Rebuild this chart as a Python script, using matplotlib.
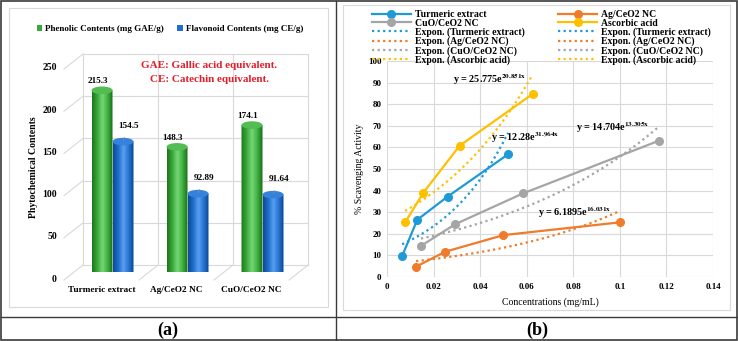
import numpy as np
import matplotlib.pyplot as plt
from matplotlib.patches import Ellipse, Patch, Rectangle
from matplotlib.path import Path
from matplotlib.lines import Line2D
from matplotlib.colors import LinearSegmentedColormap
from matplotlib.transforms import Affine2D

plt.rcParams['font.family'] = ['Liberation Serif', 'DejaVu Serif']
plt.rcParams['font.weight'] = 'bold'
plt.rcParams['mathtext.fontset'] = 'stix'

# panel (a) data
samples = ['Turmeric extract', 'Ag/CeO2 NC', 'CuO/CeO2 NC']
phenolic = [215.3, 148.3, 174.1]
flavonoid = [154.5, 92.89, 91.64]

# panel (b) data
turmeric_x = [0.0065, 0.013, 0.026, 0.052]
turmeric_y = [9.7, 26.5, 37.2, 56.8]
ag_x = [0.0125, 0.025, 0.05, 0.1]
ag_y = [4.8, 11.7, 19.4, 25.3]
cuo_x = [0.0146, 0.0292, 0.0584, 0.1168]
cuo_y = [14.4, 24.4, 38.7, 63.1]
asc_x = [0.0078, 0.0156, 0.0312, 0.0625]
asc_y = [25.3, 39.0, 60.8, 84.7]
fit_text = {
    'Turmeric extract': r'y = 12.28e$^{\mathbf{31.964x}}$',
    'Ag/CeO2 NC': r'y = 6.1895e$^{\mathbf{16.031x}}$',
    'CuO/CeO2 NC': r'y = 14.704e$^{\mathbf{13.305x}}$',
    'Ascorbic acid': r'y = 25.775e$^{\mathbf{20.851x}}$',
}

W, H = 738, 341


def fx(px):
    return px / W


def fy(py):
    return 1 - py / H


fig = plt.figure(figsize=(7.38, 3.41), dpi=100)

# frames
fig.add_artist(Rectangle((fx(1), fy(340)), 736 / W, 339 / H, fill=False,
                         ec='#3a3a3a', lw=1.2, transform=fig.transFigure))
fig.add_artist(Line2D([fx(336)] * 2, [fy(1), fy(340)], color='#3a3a3a', lw=1.0))
fig.add_artist(Line2D([fx(1), fx(737)], [fy(317)] * 2, color='#3a3a3a', lw=1.0))
fig.add_artist(Rectangle((fx(9), fy(307)), 319 / W, 299 / H, fill=False,
                         ec='#d9d9d9', lw=0.8, transform=fig.transFigure))
fig.add_artist(Rectangle((fx(343), fy(310)), 387 / W, 305 / H, fill=False,
                         ec='#d9d9d9', lw=0.8, transform=fig.transFigure))
fig.text(fx(168), fy(330), '(a)', ha='center', va='center', fontsize=13)
fig.text(fx(537), fy(330), '(b)', ha='center', va='center', fontsize=13)

# ---------------- panel (a): 3D-look cylinders
axa = fig.add_axes([fx(75), fy(272), 225 / W, 211 / H])
sx = 225 / 3
sy = 211 / 250


def off(x, y, dxp, dyp):
    return x + dxp / sx, y + dyp / sy


grid_c = '#d9d9d9'
for v in range(0, 251, 50):
    x0, y0 = off(-0.5, v, 8, 7)
    x1, y1 = off(2.5, v, 8, 7)
    xa, ya = off(-0.5, v, -11, -8)
    axa.plot([x0, x1], [y0, y1], color=grid_c, lw=0.8, clip_on=False, zorder=0)
    axa.plot([xa, x0], [ya, y0], color=grid_c, lw=0.8, clip_on=False, zorder=0)
    tx, ty = off(-0.5, v, -18, -7)
    axa.text(tx, ty, str(v), ha='right', va='center', fontsize=7)
for b in [-0.5, 0.5, 1.5, 2.5]:
    x0, y0 = off(b, 0, 8, 7)
    x1, y1 = off(b, 250, 8, 7)
    axa.plot([x0, x1], [y0, y1], color=grid_c, lw=0.8, clip_on=False, zorder=0)
for b in [0.5, 1.5, 2.5]:
    xa, ya = off(b, 0, -11, -8)
    x0, y0 = off(b, 0, 8, 7)
    axa.plot([xa, x0], [ya, y0], color=grid_c, lw=0.8, clip_on=False, zorder=0)

green_map = LinearSegmentedColormap.from_list(
    'g', ['#1d761d', '#38a838', '#78d678', '#3fb23f', '#1a6a1a'])
blue_map = LinearSegmentedColormap.from_list(
    'b', ['#0c4a96', '#1d6dcc', '#5b9ff0', '#2674d4', '#0a4690'])


def cylinder(ax, c, h, w, cmap, top_color):
    eh = 9
    arc = Path.arc(180, 360)
    tr = Affine2D().scale(w / 2, eh / 2).translate(c, 0)
    verts = list(tr.transform(arc.vertices)) + [(c + w / 2, h), (c - w / 2, h), (c - w / 2, 0)]
    codes = list(arc.codes) + [Path.LINETO] * 3
    path = Path(verts, codes)
    grad = np.linspace(0, 1, 64).reshape(1, -1)
    im = ax.imshow(grad, cmap=cmap, extent=(c - w / 2, c + w / 2, -eh / 2, h),
                   aspect='auto', zorder=2, interpolation='bilinear')
    im.set_clip_path(path, transform=ax.transData)
    ax.add_patch(Ellipse((c, h), w, eh, fc=top_color, ec='none', zorder=3))


bw = 0.28
for i, (p, f) in enumerate(zip(phenolic, flavonoid)):
    cylinder(axa, i - bw / 2, p, bw, green_map, '#52bd52')
    cylinder(axa, i + bw / 2, f, bw, blue_map, '#3482dc')
    axa.annotate(str(p), (i - bw / 2, p), xytext=(-4, 9), textcoords='offset pixels',
                 ha='center', va='center', fontsize=6.6)
    axa.annotate(str(f), (i + bw / 2, f), xytext=(6, 16), textcoords='offset pixels',
                 ha='center', va='center', fontsize=6.6,
                 arrowprops=dict(arrowstyle='-', color='#8c8c8c', lw=0.6,
                                 shrinkA=4, shrinkB=1))
    axa.annotate(samples[i], (i, 0), xytext=(-11, -18), textcoords='offset pixels',
                 ha='center', va='center', fontsize=6.7)

axa.set_xlim(-0.5, 2.5)
axa.set_ylim(0, 250)
axa.axis('off')

fig.text(fx(33), fy(167), 'Phytochemical Contents', rotation=90,
         ha='center', va='center', fontsize=7)
fig.text(fx(209), fy(65), 'GAE: Gallic acid equivalent.', color='#e31e2a',
         ha='center', va='center', fontsize=8)
fig.text(fx(209), fy(79), 'CE: Catechin equivalent.', color='#e31e2a',
         ha='center', va='center', fontsize=8)
fig.legend(handles=[Patch(fc='#3aa93a'), Patch(fc='#1f6fd0')],
           labels=['Phenolic Contents (mg GAE/g)', 'Flavonoid Contents (mg CE/g)'],
           loc='center', bbox_to_anchor=(fx(170), fy(29)), ncol=2, frameon=False,
           fontsize=6.5, handlelength=0.6, handleheight=0.6, handletextpad=0.3,
           columnspacing=1.5)

# ---------------- panel (b): scavenging activity
axb = fig.add_axes([fx(387), fy(277), 326 / W, 216 / H])
series = [
    ('Turmeric extract', turmeric_x, turmeric_y, '#1e9ad6'),
    ('Ag/CeO2 NC', ag_x, ag_y, '#f07b2a'),
    ('CuO/CeO2 NC', cuo_x, cuo_y, '#a5a5a5'),
    ('Ascorbic acid', asc_x, asc_y, '#ffc000'),
]
lines = {}
trends = {}
for name, xs, ys, col in series:
    lines[name], = axb.plot(xs, ys, '-o', color=col, lw=1.6, ms=5.5, zorder=3)
    b, loga = np.polyfit(xs, np.log(ys), 1)
    xt = np.linspace(min(xs), max(xs), 60)
    trends[name], = axb.plot(xt, np.exp(loga) * np.exp(b * xt), color=col, lw=1.6,
                             ls=(0, (1, 1.5)), zorder=2)

eq_pos = {
    'Turmeric extract': (0.0593, 64.8),
    'Ag/CeO2 NC': (0.0807, 30.1),
    'CuO/CeO2 NC': (0.0971, 69.4),
    'Ascorbic acid': (0.0442, 91.2),
}
for name, (ex, ey) in eq_pos.items():
    axb.text(ex, ey, fit_text[name], ha='center', va='center', fontsize=7.3, zorder=4)

axb.set_xlim(0, 0.14)
axb.set_ylim(0, 100)
axb.set_xticks(np.arange(0, 0.141, 0.02))
axb.set_xticklabels(['0', '0.02', '0.04', '0.06', '0.08', '0.1', '0.12', '0.14'])
axb.set_yticks(range(0, 101, 10))
axb.tick_params(length=0, labelsize=6.5, pad=4)
axb.grid(color='#d9d9d9', lw=0.8)
axb.set_axisbelow(True)
for s in axb.spines.values():
    s.set_visible(False)
axb.set_xlabel('Concentrations (mg/mL)', fontsize=7, labelpad=5)
axb.set_ylabel('% Scavenging Activity', fontsize=7, labelpad=3)

names = [s[0] for s in series]
exp_handles = [trends[n] for n in names]
exp_labels = ['Expon. (%s)' % n for n in names]
handles = [lines['Turmeric extract'], lines['CuO/CeO2 NC']] + exp_handles + \
          [lines['Ag/CeO2 NC'], lines['Ascorbic acid']] + exp_handles
labels = ['Turmeric extract', 'CuO/CeO2 NC'] + exp_labels + \
         ['Ag/CeO2 NC', 'Ascorbic acid'] + exp_labels
fig.legend(handles, labels, ncol=2, loc='upper left', bbox_to_anchor=(fx(372), fy(10)),
           frameon=False, fontsize=7, handlelength=4, labelspacing=-0.03,
           columnspacing=3.4, handletextpad=0.45, borderpad=0, borderaxespad=0)

fig.savefig('out.png', dpi=100)
